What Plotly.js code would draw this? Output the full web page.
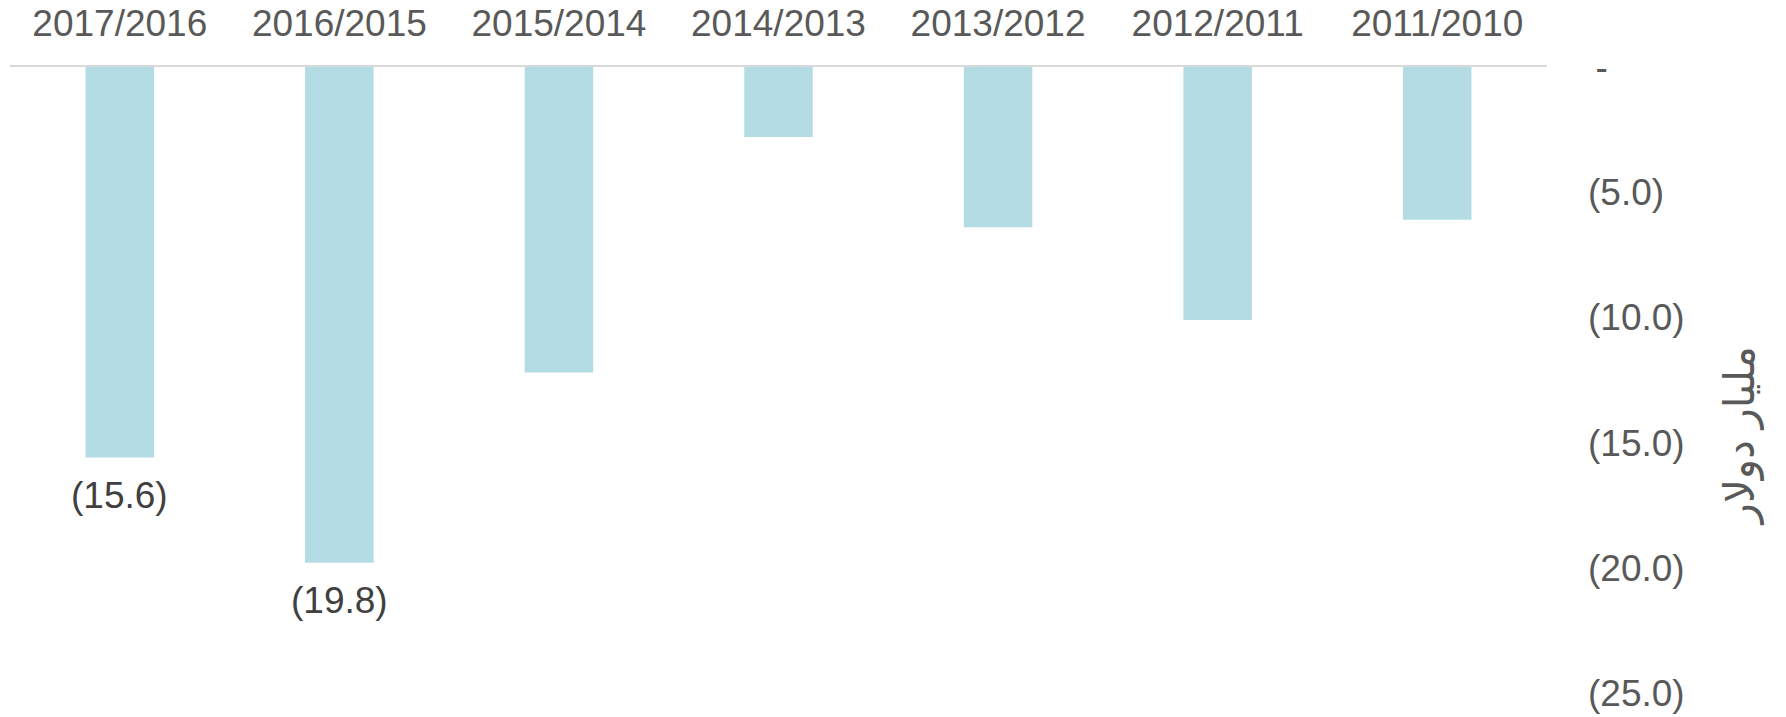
<!DOCTYPE html>
<html>
<head>
<meta charset="utf-8">
<script src="https://cdn.plot.ly/plotly-3.0.1.min.js"></script>
<style>html,body{margin:0;padding:0;background:#fff;}#chart{width:1786px;height:717px;}</style>
</head>
<body>
<div id="chart"></div>
<script>
const categories = ['2017/2016','2016/2015','2015/2014','2014/2013','2013/2012','2012/2011','2011/2010'];
const values = [-15.6, -19.8, -12.2, -2.8, -6.4, -10.1, -6.1];
const dataLabels = ['(15.6)', '(19.8)', '', '', '', '', ''];
const tickValues = [0, -5, -10, -15, -20, -25];
const tickLabels = ['\u2009-', '(5.0)', '(10.0)', '(15.0)', '(20.0)', '(25.0)'];
const axisTitle = 'مليار دولار';

const FONT = 'Liberation Sans, Arial, sans-serif';

const trace = {
  type: 'bar',
  x: categories,
  y: values,
  marker: {color: '#B4DCE5'},
  hoverinfo: 'x+y'
};

const annotations = categories.map((c, i) => ({
  x: c, y: values[i], xref: 'x', yref: 'y',
  text: dataLabels[i], showarrow: false,
  yanchor: 'top', yshift: -15,
  font: {family: FONT, size: 37, color: '#404040'}
})).filter(a => a.text !== '');

annotations.push({
  xref: 'paper', yref: 'paper', x: 1.1256, y: 0.41,
  text: axisTitle, showarrow: false, textangle: -90,
  xanchor: 'center', yanchor: 'middle',
  font: {family: 'Liberation Sans, DejaVu Sans, sans-serif', size: 42, color: '#595959'}
});

const layout = {
  width: 1786, height: 717,
  margin: {l: 10, r: 239, t: 67, b: 24},
  paper_bgcolor: '#ffffff', plot_bgcolor: '#ffffff',
  showlegend: false,
  bargap: 0.688,
  xaxis: {
    side: 'top', type: 'category',
    showline: true, linecolor: '#D9D9D9', linewidth: 2,
    showgrid: false, zeroline: false, ticks: '',
    ticklabelstandoff: 14,
    tickfont: {family: FONT, size: 37, color: '#595959'}
  },
  yaxis: {
    side: 'right', range: [-25, 0],
    tickvals: tickValues, ticktext: tickLabels,
    showgrid: false, zeroline: false, showline: false, ticks: '',
    ticklabelstandoff: 40,
    tickfont: {family: FONT, size: 37, color: '#595959'}
  },
  annotations: annotations
};

Plotly.newPlot('chart', [trace], layout, {displayModeBar: false, staticPlot: true});
</script>
</body>
</html>
